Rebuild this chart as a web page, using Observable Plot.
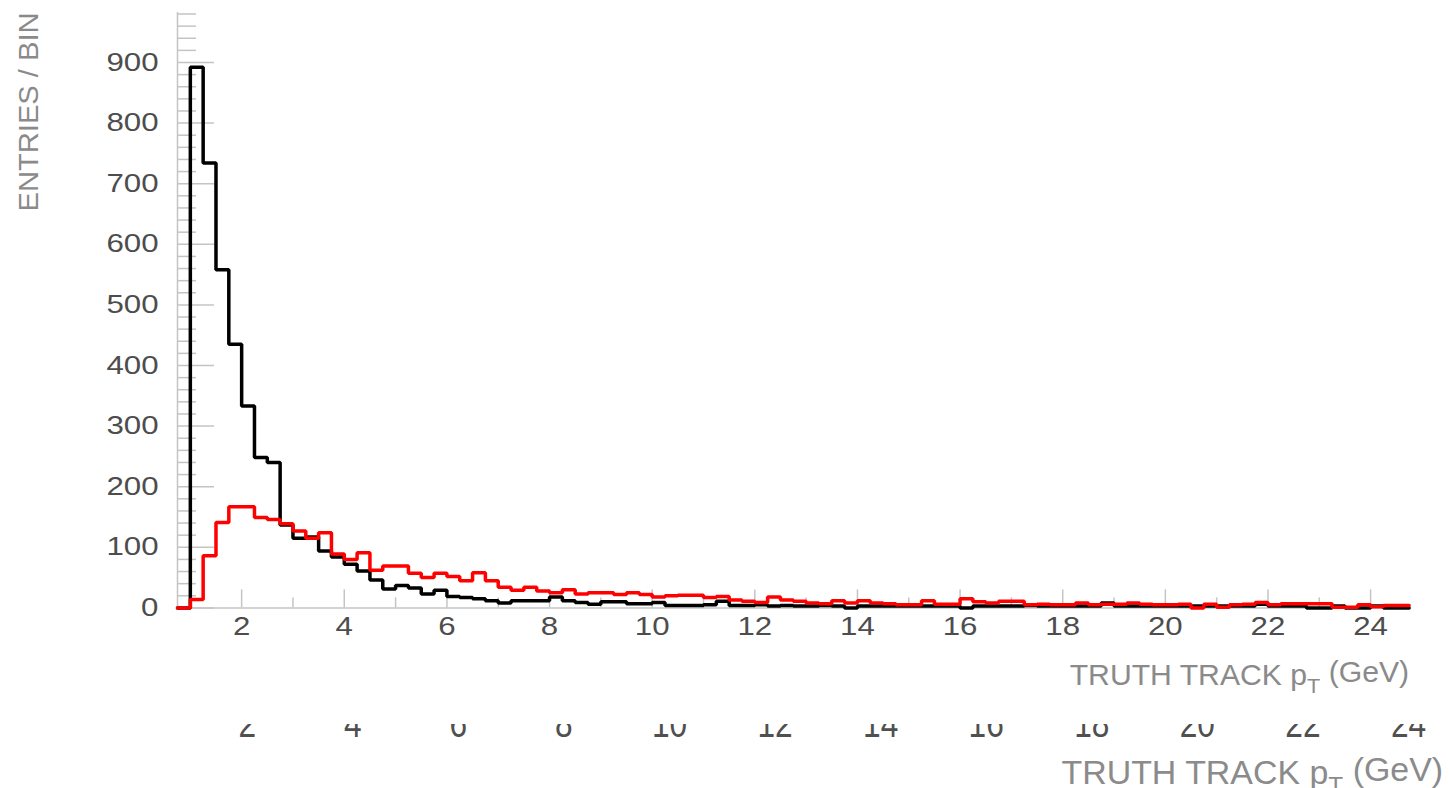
<!DOCTYPE html>
<html>
<head>
<meta charset="utf-8">
<script src="https://cdn.jsdelivr.net/npm/d3@7"></script>
<script src="https://cdn.jsdelivr.net/npm/@observablehq/plot@0.6"></script>
<style>
  body { margin: 0; background: #fff; }
  #wrap { position: relative; width: 1449px; height: 788px; overflow: hidden; background: #fff; }
  #main { position: absolute; left: 0; top: 0; }
  #ghost { position: absolute; left: 0; top: 724px; width: 1449px; height: 64px; overflow: hidden; }
  svg { overflow: hidden; }
</style>
</head>
<body>
<div id="wrap"><div id="main"></div><div id="ghost"></div></div>
<script>
// ---- data (bins of 0.25 GeV starting at 0.75 GeV) ----
const binStart = 0.75;
const binWidth = 0.25;
const blackCounts = [
  0, 892, 734, 558, 435, 333, 248, 240, 137, 115,
  117, 94, 84, 72, 61, 46, 31, 37, 33, 23,
  29, 19, 17, 15, 12, 8, 12, 12, 12, 18,
  12, 9, 6, 10, 10, 7, 7, 9, 4, 4,
  4, 5, 11, 4, 4, 5, 3, 4, 3, 3,
  4, 3, 0, 3, 3, 3, 3, 3, 3, 3,
  3, 0, 3, 3, 3, 3, 4, 3, 3, 3,
  3, 3, 8, 3, 3, 3, 3, 3, 3, 3,
  3, 3, 3, 3, 6, 3, 3, 3, 0, 0,
  3, 0, 0, 3, 0, 0
];
const redCounts = [
  0, 14, 86, 141, 167, 167, 149, 146, 139, 127,
  115, 124, 89, 80, 91, 62, 69, 69, 57, 50,
  57, 52, 45, 58, 45, 34, 29, 34, 28, 25,
  30, 23, 25, 25, 22, 25, 22, 18, 20, 21,
  21, 17, 19, 13, 11, 9, 18, 13, 11, 8,
  7, 12, 8, 12, 8, 7, 5, 5, 12, 6,
  6, 15, 10, 8, 11, 11, 5, 6, 5, 5,
  8, 5, 6, 6, 8, 6, 5, 5, 6, 0,
  6, 1, 5, 6, 9, 5, 7, 7, 7, 7,
  1, 1, 5, 2, 4, 4
];
const yMajorTicks = [0, 100, 200, 300, 400, 500, 600, 700, 800, 900];
const yMinorTicks = d3.range(20, 981, 20).filter(v => v % 100 !== 0);
const xMajorTicks = [2, 4, 6, 8, 10, 12, 14, 16, 18, 20, 22, 24];
const xMinorTicks = [1, 3, 5, 7, 9, 11, 13, 15, 17, 19, 21, 23];
const xTitle = "TRUTH TRACK pT (GeV)";
const yTitle = "ENTRIES / BIN";

// ---- build step series (left edges + closing right edge) ----
function steps(counts, series) {
  const pts = counts.map((c, i) => ({x: binStart + i * binWidth, y: c, series}));
  pts.push({x: binStart + counts.length * binWidth, y: counts[counts.length - 1], series});
  return pts;
}
const blackLine = steps(blackCounts, "all");
const redLine = steps(redCounts, "matched");
const xMax = binStart + blackCounts.length * binWidth;

const W = 1449, H = 700;
const mL = 177, mR = 40.4, mT = 12, mB = H - 607.4;
const frameW = W - mL - mR, frameH = H - mT - mB;
const axisGray = "#c4c4c4";
const labelColor = "#4d4d4d";
const titleColor = "#8a8a8a";
const ghostLabel = "#505050";
const ghostTitle = "#8b8b8b";
const font = "'Liberation Sans', Arial, Helvetica, sans-serif";

const chart = Plot.plot({
  width: W, height: H,
  marginLeft: mL, marginRight: mR, marginTop: mT, marginBottom: mB,
  style: {background: "white", fontFamily: font},
  x: {domain: [binStart, xMax], axis: null},
  y: {domain: [0, 982.5], axis: null},
  marks: [
    Plot.tickY(yMajorTicks, {y: d => d, stroke: axisGray, strokeWidth: 1.5, insetRight: frameW - 37}),
    Plot.tickY(yMinorTicks, {y: d => d, stroke: axisGray, strokeWidth: 1.5, insetRight: frameW - 19}),
    Plot.tickX(xMajorTicks, {x: d => d, stroke: axisGray, strokeWidth: 1.5, insetTop: frameH - 18}),
    Plot.tickX(xMinorTicks, {x: d => d, stroke: axisGray, strokeWidth: 1.5, insetTop: frameH - 10}),
    Plot.ruleX([binStart], {stroke: axisGray, strokeWidth: 1.5}),
    Plot.ruleY([0], {stroke: axisGray, strokeWidth: 1.5}),
    Plot.line(blackLine, {x: "x", y: "y", curve: "step-after", stroke: "#000", strokeWidth: 3.5, strokeLinejoin: "miter"}),
    Plot.line(redLine, {x: "x", y: "y", curve: "step-after", stroke: "#ff0000", strokeWidth: 3.5, strokeLinejoin: "miter"}),
    Plot.text(yMajorTicks, {y: d => d, text: d => String(d), frameAnchor: "left", textAnchor: "end", dx: -19, fontSize: 25, fill: labelColor}),
    Plot.text(xMajorTicks, {x: d => d, text: d => String(d), frameAnchor: "bottom", dy: 27, fontSize: 25, fill: labelColor}),
    Plot.text([yTitle], {text: d => d, frameAnchor: "top-left", rotate: -90, textAnchor: "end", lineAnchor: "top", dx: -159, fontSize: 28, fill: titleColor}),
    Plot.text([xTitle], {text: d => d, frameAnchor: "bottom-right", textAnchor: "end", lineAnchor: "bottom", dy: 77, fontSize: 29, fill: titleColor})
  ]
});
document.getElementById("main").appendChild(chart);

// ghost (duplicated, enlarged) x axis at the bottom, clipped at the top
const gW = 1452, gH = 64;
const ghost = Plot.plot({
  width: gW, height: gH,
  marginLeft: 181, marginRight: gW - 1450.7, marginTop: 0, marginBottom: gH,
  style: {background: "transparent", fontFamily: font},
  x: {domain: [binStart, xMax], axis: null},
  y: {domain: [0, 1], axis: null},
  marks: [
    Plot.text(xMajorTicks, {x: d => d, text: d => String(d), frameAnchor: "top", lineAnchor: "bottom", dy: 13, fontSize: 26, fill: ghostLabel}),
    Plot.text([xTitle], {text: d => d, frameAnchor: "top-right", textAnchor: "end", lineAnchor: "bottom", dy: 60, dx: -5, fontSize: 34, fill: ghostTitle})
  ]
});
document.getElementById("ghost").appendChild(ghost);

// post-processing: anisotropic stretch of some texts and the subscript T
const NS = "http://www.w3.org/2000/svg";
function stretch(svg, fill, sx, sy) {
  svg.querySelectorAll(`g[fill="${fill}"] text`).forEach(t => {
    const tr = t.getAttribute("transform") || "";
    t.setAttribute("transform", `${tr} scale(${sx},${sy})`);
  });
}
function subscript(svg) {
  svg.querySelectorAll("text").forEach(t => {
    if (t.textContent === xTitle) {
      t.textContent = "";
      const a = document.createElementNS(NS, "tspan"); a.textContent = "TRUTH TRACK p";
      const b = document.createElementNS(NS, "tspan"); b.textContent = "T"; b.setAttribute("dy", "0.38em"); b.setAttribute("font-size", "72%");
      const c = document.createElementNS(NS, "tspan"); c.textContent = " (GeV)"; c.setAttribute("dy", "-0.38em");
      t.append(a, b, c);
    }
  });
}
stretch(chart, labelColor, 1.25, 1);
stretch(chart, titleColor, 1.04, 1);
stretch(ghost, ghostLabel, 1.22, 1.5);
subscript(chart);
subscript(ghost);
</script>
</body>
</html>
